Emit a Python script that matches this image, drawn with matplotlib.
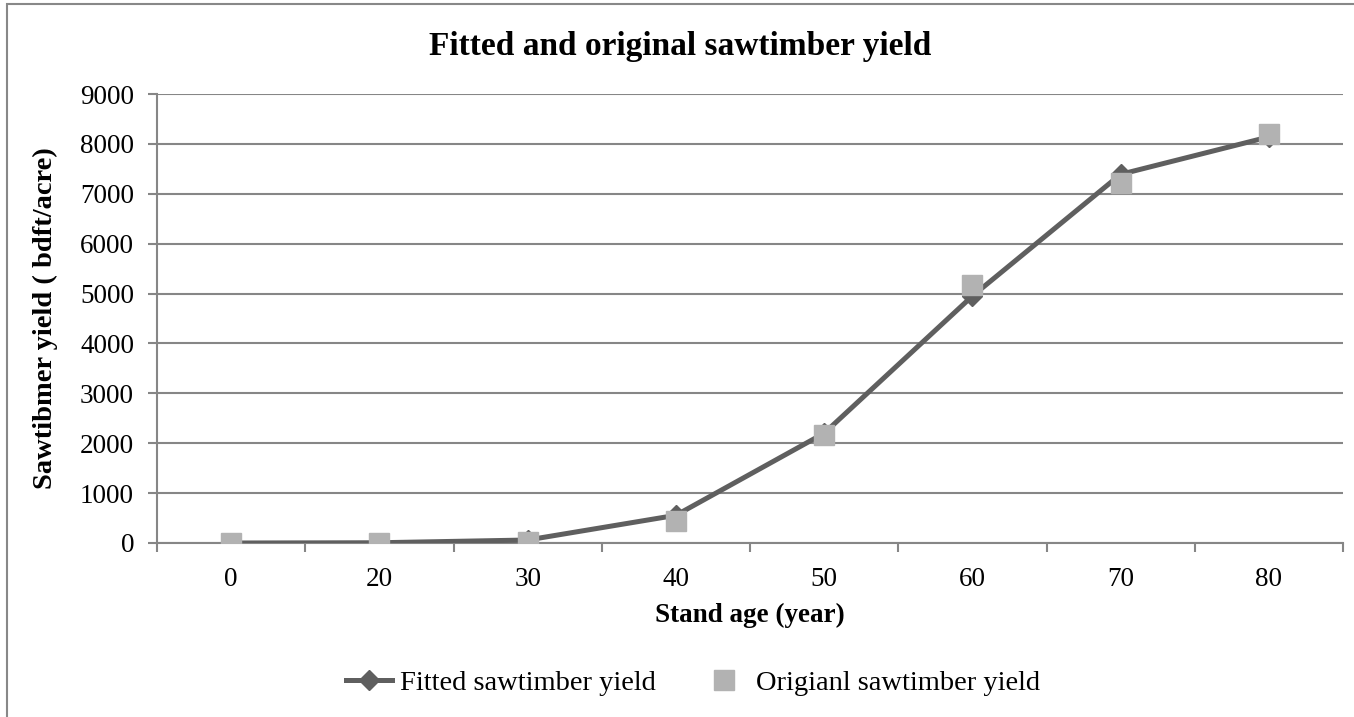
import numpy as np
import matplotlib.pyplot as plt
from matplotlib.patches import Rectangle

plt.rcParams['font.family'] = ['Liberation Serif', 'DejaVu Serif']

ages = ['0', '20', '30', '40', '50', '60', '70', '80']
fitted = [0, 5, 60, 555, 2200, 4950, 7390, 8140]
original = [0, 0, 15, 440, 2155, 5170, 7210, 8200]

fig = plt.figure(figsize=(13.54, 7.17), dpi=100)
ax = fig.add_axes([157/1354, 1 - 543/717, (1343 - 157)/1354, (543 - 94)/717])

x = np.arange(len(ages))
ax.plot(x, fitted, color='#5f5f5f', lw=3.6, marker='D', markersize=10,
        label='Fitted sawtimber yield', zorder=3)
ax.plot(x, original, ls='none', marker='s', markersize=14.5, color='#b2b2b2',
        label='Origianl sawtimber yield', zorder=4)

ax.set_xlim(-0.5, len(ages) - 0.5)
ax.set_ylim(0, 9000)
ax.set_yticks(np.arange(0, 9001, 1000))
ax.set_xticks(x)
ax.set_xticklabels(ages)
ax.set_xticks(np.arange(-0.5, len(ages), 1), minor=True)
ax.tick_params(axis='x', which='major', length=0, pad=17, labelsize=19.5)
ax.tick_params(axis='x', which='minor', length=6.5, width=1.5, color='#868686', direction='out')
ax.tick_params(axis='y', length=6.5, width=1.5, color='#868686', labelsize=19.5, pad=10)
ax.grid(axis='y', color='#868686', lw=1.5)
ax.set_axisbelow(True)
for s in ['top', 'right']:
    ax.spines[s].set_visible(False)
for s in ['left', 'bottom']:
    ax.spines[s].set_color('#868686')
    ax.spines[s].set_linewidth(1.5)

ax.set_xlabel('Stand age (year)', fontsize=19.5, fontweight='bold', labelpad=8)
ax.set_ylabel('Sawtibmer yield ( bdft/acre)', fontsize=20.5, fontweight='bold', labelpad=16)
fig.text(680/1354, 1 - 47/717, 'Fitted and original sawtimber yield', ha='center', va='center',
         fontsize=24, fontweight='bold')

fig.legend(loc='center', bbox_to_anchor=(693/1354, 1 - 683/717), ncol=2, frameon=False,
           fontsize=20.5, handlelength=1.6, columnspacing=1.6, handletextpad=0.3)

fig.patches.append(Rectangle((7/1354, -0.1), 1.2, 1 - 4/717 + 0.1, transform=fig.transFigure,
                             fill=False, edgecolor='#888888', lw=1.5))

fig.savefig('out.png', dpi=100)
